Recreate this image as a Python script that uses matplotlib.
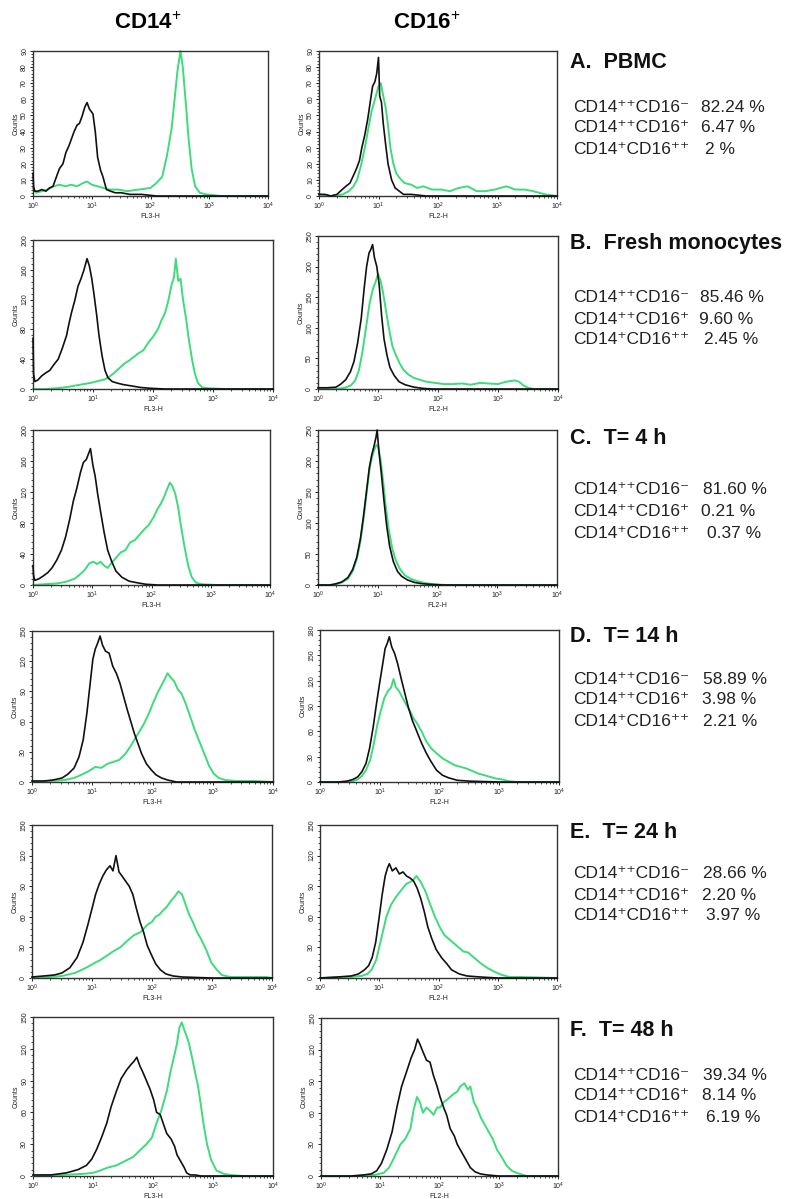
import numpy as np
import matplotlib
matplotlib.use("Agg")
import matplotlib.pyplot as plt
from matplotlib.ticker import MultipleLocator, LogLocator, NullFormatter, LogFormatterMathtext

plt.rcParams['font.family'] = ['Liberation Sans', 'DejaVu Sans']
plt.rcParams['mathtext.fontset'] = 'custom'
plt.rcParams['mathtext.rm'] = 'Liberation Sans'
plt.rcParams['mathtext.it'] = 'Liberation Sans'
plt.rcParams['mathtext.bf'] = 'Liberation Sans:bold'

# ---------------- data (log10 fluorescence positions and counts) ----------------
col_headers = ["CD14$^{+}$", "CD16$^{+}$"]
x_labels = ["FL3-H", "FL2-H"]
row_titles = ["A.  PBMC", "B.  Fresh monocytes", "C.  T= 4 h", "D.  T= 14 h", "E.  T= 24 h", "F.  T= 48 h"]
subset_labels = ["CD14\u207a\u207aCD16\u207b", "CD14\u207a\u207aCD16\u207a", "CD14\u207aCD16\u207a\u207a"]
subset_values = [
    ["82.24 %", "6.47 %", "2 %"],
    ["85.46 %", "9.60 %", "2.45 %"],
    ["81.60 %", "0.21 %", "0.37 %"],
    ["58.89 %", "3.98 %", "2.21 %"],
    ["28.66 %", "2.20 %", "3.97 %"],
    ["39.34 %", "8.14 %", "6.19 %"],
]
y_max = [[90, 90], [200, 250], [200, 250], [150, 180], [150, 150], [150, 150]]
y_step = [[10, 10], [40, 50], [40, 50], [30, 30], [30, 30], [30, 30]]

# Row A
A_cd14_iso_e = [0.00, 0.01, 0.03, 0.08, 0.15, 0.22, 0.28, 0.34, 0.40, 0.45, 0.51, 0.56, 0.61, 0.65, 0.70, 0.75, 0.79, 0.84, 0.88, 0.92, 0.96, 1.02, 1.06, 1.10, 1.15, 1.19, 1.25, 1.32, 1.40, 1.50, 1.65, 1.85, 2.10, 2.50, 3.00, 4.00]
A_cd14_iso_n = [14, 6, 3, 3, 4, 3, 5, 6, 12, 17, 20, 27, 31, 35, 40, 44, 45, 50, 55, 58, 54, 51, 40, 24, 16, 12, 4, 3, 2, 2, 1, 1, 0, 0, 0, 0]
A_cd14_ab_e = [0.00, 0.05, 0.15, 0.25, 0.35, 0.45, 0.55, 0.65, 0.75, 0.85, 0.92, 1.00, 1.10, 1.20, 1.30, 1.45, 1.60, 1.80, 2.00, 2.10, 2.20, 2.28, 2.36, 2.41, 2.46, 2.51, 2.55, 2.60, 2.65, 2.70, 2.76, 2.84, 2.95, 3.20, 4.00]
A_cd14_ab_n = [5, 2, 3, 4, 6, 7, 6, 7, 6, 8, 9, 7, 6, 5, 4, 4, 3, 4, 5, 8, 12, 25, 42, 60, 78, 90, 80, 58, 35, 17, 6, 2, 1, 0, 0]
A_cd16_iso_e = [0.00, 0.10, 0.20, 0.30, 0.36, 0.45, 0.52, 0.57, 0.63, 0.68, 0.72, 0.77, 0.82, 0.86, 0.90, 0.94, 0.97, 1.00, 1.02, 1.05, 1.08, 1.12, 1.16, 1.22, 1.28, 1.35, 1.42, 1.55, 1.80, 2.20, 3.00, 4.00]
A_cd16_iso_n = [1, 1, 0, 1, 3, 6, 8, 12, 17, 22, 30, 38, 48, 58, 68, 71, 76, 86, 62, 58, 45, 32, 20, 10, 5, 3, 1, 1, 0, 0, 0, 0]
A_cd16_ab_e = [0.00, 0.20, 0.40, 0.50, 0.58, 0.64, 0.70, 0.76, 0.82, 0.88, 0.94, 1.00, 1.04, 1.08, 1.12, 1.16, 1.20, 1.25, 1.30, 1.36, 1.44, 1.55, 1.65, 1.75, 1.90, 2.05, 2.20, 2.35, 2.50, 2.65, 2.80, 2.95, 3.05, 3.15, 3.30, 3.45, 3.60, 3.70, 3.80, 4.00]
A_cd16_ab_n = [1, 0, 1, 3, 6, 10, 18, 28, 40, 52, 60, 68, 70, 62, 55, 44, 30, 20, 14, 11, 8, 7, 5, 6, 4, 4, 3, 5, 6, 3, 3, 4, 5, 6, 4, 4, 3, 2, 1, 0]

# Row B
B_cd14_iso_e = [0.00, 0.01, 0.03, 0.08, 0.15, 0.22, 0.28, 0.35, 0.42, 0.49, 0.56, 0.60, 0.64, 0.70, 0.75, 0.80, 0.85, 0.90, 0.94, 0.98, 1.02, 1.06, 1.10, 1.15, 1.20, 1.25, 1.32, 1.40, 1.50, 1.65, 1.80, 1.95, 2.20, 3.00, 4.00]
B_cd14_iso_n = [68, 20, 10, 12, 18, 22, 25, 33, 40, 55, 72, 88, 102, 120, 138, 148, 160, 175, 165, 148, 125, 100, 72, 45, 25, 15, 10, 8, 6, 4, 2, 1, 0, 0, 0]
B_cd14_ab_e = [0.00, 0.20, 0.40, 0.60, 0.80, 0.95, 1.10, 1.20, 1.28, 1.36, 1.44, 1.52, 1.60, 1.68, 1.76, 1.84, 1.92, 2.00, 2.08, 2.14, 2.20, 2.26, 2.31, 2.35, 2.38, 2.42, 2.46, 2.50, 2.55, 2.60, 2.65, 2.70, 2.75, 2.82, 2.92, 3.20, 4.00]
B_cd14_ab_n = [0, 0, 1, 3, 6, 8, 11, 13, 17, 22, 28, 34, 38, 43, 48, 52, 62, 70, 80, 92, 102, 120, 140, 150, 175, 145, 148, 120, 95, 65, 40, 20, 8, 2, 1, 0, 0]
B_cd16_iso_e = [0.00, 0.15, 0.30, 0.38, 0.46, 0.54, 0.60, 0.66, 0.72, 0.77, 0.81, 0.85, 0.88, 0.91, 0.94, 0.98, 1.02, 1.06, 1.10, 1.15, 1.20, 1.27, 1.35, 1.45, 1.60, 1.75, 1.90, 2.20, 3.00, 4.00]
B_cd16_iso_n = [2, 2, 3, 8, 15, 28, 45, 75, 115, 165, 200, 222, 228, 236, 215, 200, 170, 120, 82, 55, 35, 22, 12, 7, 3, 1, 0, 0, 0, 0]
B_cd16_ab_e = [0.00, 0.30, 0.45, 0.55, 0.62, 0.68, 0.74, 0.80, 0.86, 0.92, 0.96, 1.00, 1.04, 1.08, 1.13, 1.18, 1.24, 1.30, 1.36, 1.42, 1.50, 1.60, 1.70, 1.80, 1.95, 2.10, 2.25, 2.40, 2.55, 2.70, 2.85, 3.00, 3.10, 3.20, 3.28, 3.35, 3.42, 3.50, 3.60, 4.00]
B_cd16_ab_n = [0, 0, 2, 6, 14, 30, 60, 100, 140, 165, 175, 188, 178, 160, 130, 100, 70, 55, 42, 32, 24, 18, 15, 12, 10, 8, 8, 9, 7, 10, 9, 8, 11, 13, 14, 12, 6, 2, 0, 0]

# Row C
C_cd14_iso_e = [0.00, 0.01, 0.03, 0.10, 0.18, 0.25, 0.32, 0.40, 0.48, 0.55, 0.62, 0.68, 0.74, 0.80, 0.85, 0.90, 0.94, 0.97, 1.01, 1.05, 1.09, 1.14, 1.20, 1.26, 1.33, 1.40, 1.50, 1.62, 1.75, 1.90, 2.10, 3.00, 4.00]
C_cd14_iso_n = [25, 12, 6, 8, 12, 16, 22, 32, 45, 62, 85, 108, 125, 145, 158, 162, 170, 176, 155, 140, 118, 95, 68, 45, 30, 18, 10, 5, 3, 1, 0, 0, 0]
C_cd14_ab_e = [0.00, 0.20, 0.40, 0.55, 0.70, 0.80, 0.88, 0.95, 1.02, 1.08, 1.14, 1.20, 1.26, 1.32, 1.40, 1.48, 1.56, 1.64, 1.72, 1.80, 1.88, 1.96, 2.04, 2.10, 2.16, 2.22, 2.27, 2.31, 2.35, 2.40, 2.45, 2.50, 2.56, 2.62, 2.68, 2.75, 2.85, 3.10, 4.00]
C_cd14_ab_n = [0, 1, 2, 4, 8, 14, 20, 28, 30, 27, 30, 25, 22, 28, 35, 42, 45, 55, 58, 65, 72, 78, 88, 98, 105, 115, 125, 132, 128, 118, 100, 75, 48, 25, 10, 3, 1, 0, 0]
C_cd16_iso_e = [0.00, 0.20, 0.30, 0.40, 0.50, 0.58, 0.65, 0.71, 0.76, 0.81, 0.86, 0.90, 0.94, 0.97, 0.99, 1.02, 1.06, 1.10, 1.15, 1.20, 1.26, 1.33, 1.40, 1.50, 1.62, 1.75, 1.90, 2.10, 3.00, 4.00]
C_cd16_iso_n = [0, 0, 2, 5, 12, 25, 45, 75, 110, 150, 190, 210, 225, 238, 250, 215, 180, 140, 95, 62, 38, 22, 14, 8, 4, 2, 1, 0, 0, 0]
C_cd16_ab_e = [0.00, 0.20, 0.30, 0.40, 0.50, 0.58, 0.65, 0.71, 0.76, 0.81, 0.86, 0.90, 0.94, 0.98, 1.01, 1.05, 1.09, 1.13, 1.18, 1.24, 1.30, 1.37, 1.45, 1.55, 1.67, 1.80, 1.95, 2.15, 3.00, 4.00]
C_cd16_ab_n = [0, 0, 1, 4, 10, 22, 42, 70, 105, 145, 185, 205, 218, 226, 222, 200, 168, 130, 92, 60, 40, 26, 16, 10, 6, 3, 1, 0, 0, 0]

# Row D
D_cd14_iso_e = [0.00, 0.20, 0.35, 0.50, 0.60, 0.70, 0.78, 0.85, 0.91, 0.96, 1.01, 1.05, 1.09, 1.13, 1.17, 1.22, 1.28, 1.34, 1.40, 1.46, 1.52, 1.58, 1.64, 1.70, 1.76, 1.82, 1.90, 1.98, 2.06, 2.15, 2.25, 2.40, 3.00, 4.00]
D_cd14_iso_n = [1, 1, 2, 4, 8, 14, 25, 42, 68, 95, 122, 132, 138, 145, 136, 130, 128, 115, 108, 98, 85, 72, 60, 48, 38, 28, 18, 12, 7, 4, 2, 0, 0, 0]
D_cd14_ab_e = [0.00, 0.30, 0.55, 0.70, 0.85, 0.95, 1.05, 1.15, 1.25, 1.35, 1.45, 1.55, 1.63, 1.70, 1.78, 1.86, 1.94, 2.02, 2.08, 2.14, 2.20, 2.25, 2.30, 2.36, 2.42, 2.48, 2.55, 2.62, 2.70, 2.78, 2.86, 2.94, 3.02, 3.10, 3.20, 3.40, 3.70, 4.00]
D_cd14_ab_n = [0, 1, 2, 4, 8, 11, 15, 14, 18, 20, 22, 28, 35, 42, 50, 58, 68, 80, 88, 95, 102, 108, 104, 100, 92, 88, 78, 66, 52, 40, 28, 16, 8, 4, 2, 1, 1, 0]
D_cd16_iso_e = [0.00, 0.30, 0.45, 0.55, 0.63, 0.70, 0.77, 0.83, 0.89, 0.95, 1.00, 1.05, 1.09, 1.13, 1.16, 1.20, 1.25, 1.30, 1.36, 1.42, 1.48, 1.55, 1.62, 1.70, 1.78, 1.86, 1.95, 2.05, 2.15, 2.30, 2.50, 3.00, 4.00]
D_cd16_iso_n = [0, 0, 1, 3, 6, 12, 22, 40, 65, 95, 118, 140, 158, 165, 172, 160, 152, 140, 122, 105, 88, 72, 60, 46, 34, 24, 14, 8, 5, 2, 1, 0, 0]
D_cd16_ab_e = [0.00, 0.40, 0.55, 0.63, 0.70, 0.77, 0.84, 0.90, 0.96, 1.02, 1.08, 1.14, 1.19, 1.23, 1.27, 1.32, 1.38, 1.44, 1.50, 1.56, 1.62, 1.70, 1.78, 1.86, 1.95, 2.05, 2.15, 2.25, 2.35, 2.45, 2.55, 2.65, 2.75, 2.85, 2.95, 3.05, 3.15, 3.30, 4.00]
D_cd16_ab_n = [0, 0, 1, 3, 7, 14, 26, 45, 68, 85, 100, 108, 112, 122, 112, 108, 100, 92, 85, 76, 70, 60, 48, 40, 34, 28, 24, 20, 18, 16, 13, 10, 8, 6, 4, 3, 1, 0, 0]

# Row E
E_cd14_iso_e = [0.00, 0.20, 0.38, 0.50, 0.63, 0.75, 0.85, 0.93, 1.00, 1.06, 1.12, 1.18, 1.24, 1.30, 1.35, 1.40, 1.45, 1.50, 1.56, 1.62, 1.68, 1.74, 1.80, 1.86, 1.92, 1.98, 2.06, 2.14, 2.23, 2.35, 2.50, 3.00, 4.00]
E_cd14_iso_n = [1, 2, 3, 5, 10, 20, 35, 52, 68, 82, 92, 100, 106, 110, 105, 120, 104, 100, 95, 90, 82, 68, 55, 45, 32, 24, 14, 8, 4, 2, 1, 0, 0]
E_cd14_ab_e = [0.00, 0.30, 0.50, 0.72, 0.90, 1.05, 1.15, 1.25, 1.35, 1.47, 1.58, 1.70, 1.81, 1.92, 2.00, 2.06, 2.12, 2.18, 2.25, 2.32, 2.38, 2.44, 2.50, 2.56, 2.62, 2.68, 2.75, 2.82, 2.90, 2.99, 3.08, 3.16, 3.30, 3.50, 3.90, 4.00]
E_cd14_ab_n = [0, 1, 2, 5, 10, 15, 18, 22, 26, 30, 36, 42, 45, 52, 55, 60, 62, 66, 70, 76, 80, 85, 82, 72, 62, 55, 45, 38, 28, 15, 8, 3, 1, 1, 1, 0]
E_cd16_iso_e = [0.00, 0.30, 0.53, 0.65, 0.75, 0.82, 0.88, 0.94, 1.00, 1.05, 1.10, 1.14, 1.17, 1.22, 1.28, 1.34, 1.40, 1.46, 1.52, 1.58, 1.64, 1.70, 1.76, 1.82, 1.89, 1.96, 2.05, 2.14, 2.22, 2.35, 2.48, 2.70, 3.00, 4.00]
E_cd16_iso_n = [0, 1, 2, 4, 8, 12, 20, 35, 60, 82, 100, 108, 112, 105, 108, 102, 104, 100, 98, 95, 88, 78, 65, 50, 38, 28, 20, 14, 8, 4, 2, 1, 0, 0]
E_cd16_ab_e = [0.00, 0.50, 0.70, 0.80, 0.87, 0.95, 1.04, 1.12, 1.20, 1.29, 1.37, 1.45, 1.55, 1.63, 1.70, 1.78, 1.86, 1.94, 2.02, 2.10, 2.18, 2.26, 2.34, 2.42, 2.50, 2.60, 2.70, 2.82, 2.95, 3.07, 3.20, 3.40, 4.00]
E_cd16_ab_n = [0, 1, 2, 4, 8, 18, 40, 60, 72, 80, 86, 92, 95, 100, 94, 85, 72, 60, 50, 42, 38, 34, 30, 26, 25, 20, 15, 10, 6, 3, 1, 1, 0]

# Row F
F_cd14_iso_e = [0.00, 0.30, 0.56, 0.75, 0.89, 0.98, 1.06, 1.14, 1.23, 1.30, 1.39, 1.47, 1.56, 1.63, 1.68, 1.73, 1.78, 1.83, 1.89, 1.95, 2.01, 2.06, 2.12, 2.18, 2.23, 2.30, 2.36, 2.40, 2.46, 2.52, 2.56, 2.62, 2.70, 2.80, 3.00, 4.00]
F_cd14_iso_n = [1, 1, 3, 6, 10, 16, 25, 36, 50, 65, 80, 92, 100, 105, 108, 112, 104, 98, 90, 82, 72, 60, 58, 48, 40, 35, 28, 20, 14, 8, 3, 1, 1, 0, 0, 0]
F_cd14_ab_e = [0.00, 0.50, 0.84, 1.00, 1.11, 1.25, 1.39, 1.53, 1.67, 1.78, 1.89, 1.98, 2.06, 2.14, 2.23, 2.29, 2.34, 2.40, 2.44, 2.48, 2.52, 2.56, 2.60, 2.65, 2.70, 2.75, 2.79, 2.84, 2.90, 2.97, 3.06, 3.18, 3.29, 3.50, 4.00]
F_cd14_ab_n = [0, 1, 2, 3, 5, 8, 10, 14, 18, 24, 30, 36, 50, 62, 80, 98, 110, 125, 140, 145, 138, 132, 125, 112, 98, 85, 70, 50, 30, 15, 5, 2, 1, 0, 0]
F_cd16_iso_e = [0.00, 0.50, 0.72, 0.85, 0.94, 1.02, 1.11, 1.20, 1.28, 1.36, 1.45, 1.52, 1.58, 1.63, 1.67, 1.72, 1.78, 1.84, 1.90, 1.96, 2.01, 2.07, 2.12, 2.18, 2.25, 2.30, 2.35, 2.42, 2.48, 2.52, 2.60, 2.69, 2.80, 3.00, 4.00]
F_cd16_iso_n = [0, 0, 1, 2, 5, 12, 25, 42, 65, 85, 100, 112, 120, 130, 125, 118, 110, 108, 95, 85, 75, 65, 58, 45, 38, 30, 25, 18, 12, 8, 4, 2, 1, 0, 0]
F_cd16_ab_e = [0.00, 0.60, 0.90, 1.06, 1.15, 1.24, 1.34, 1.42, 1.51, 1.56, 1.62, 1.67, 1.72, 1.78, 1.84, 1.90, 1.96, 2.01, 2.07, 2.12, 2.18, 2.24, 2.30, 2.35, 2.42, 2.48, 2.52, 2.58, 2.63, 2.70, 2.80, 2.90, 2.97, 3.05, 3.13, 3.22, 3.30, 3.47, 4.00]
F_cd16_ab_n = [0, 0, 1, 3, 8, 18, 30, 35, 45, 62, 75, 70, 60, 65, 62, 58, 65, 65, 70, 72, 75, 78, 80, 85, 88, 82, 85, 70, 65, 55, 45, 35, 25, 18, 10, 5, 3, 0, 0]

curves = [
    [(A_cd14_iso_e, A_cd14_iso_n, A_cd14_ab_e, A_cd14_ab_n), (A_cd16_iso_e, A_cd16_iso_n, A_cd16_ab_e, A_cd16_ab_n)],
    [(B_cd14_iso_e, B_cd14_iso_n, B_cd14_ab_e, B_cd14_ab_n), (B_cd16_iso_e, B_cd16_iso_n, B_cd16_ab_e, B_cd16_ab_n)],
    [(C_cd14_iso_e, C_cd14_iso_n, C_cd14_ab_e, C_cd14_ab_n), (C_cd16_iso_e, C_cd16_iso_n, C_cd16_ab_e, C_cd16_ab_n)],
    [(D_cd14_iso_e, D_cd14_iso_n, D_cd14_ab_e, D_cd14_ab_n), (D_cd16_iso_e, D_cd16_iso_n, D_cd16_ab_e, D_cd16_ab_n)],
    [(E_cd14_iso_e, E_cd14_iso_n, E_cd14_ab_e, E_cd14_ab_n), (E_cd16_iso_e, E_cd16_iso_n, E_cd16_ab_e, E_cd16_ab_n)],
    [(F_cd14_iso_e, F_cd14_iso_n, F_cd14_ab_e, F_cd14_ab_n), (F_cd16_iso_e, F_cd16_iso_n, F_cd16_ab_e, F_cd16_ab_n)],
]

# ---------------- layout (pixel boxes: left, top, right, bottom) ----------------
W, H = 792, 1199
boxes = [
    [(33, 51, 268, 196), (319, 51, 557, 196)],
    [(33, 240, 273, 389), (318, 236, 558, 389)],
    [(33, 430, 270, 585), (318, 430, 557, 585)],
    [(32, 631, 273, 782), (320, 630, 559, 782)],
    [(32, 825, 272, 978), (320, 825, 557, 978)],
    [(33, 1017, 273, 1176), (321, 1018, 558, 1176)],
]
title_y = [62, 244, 438, 636, 832, 1030]
line_y = [[107, 128, 149], [298, 319, 340], [489, 511, 533], [679, 700, 721], [874, 895, 916], [1075, 1096, 1117]]
value_x = [[701, 701, 705], [700, 699, 704], [703, 701, 707], [703, 702, 703], [703, 702, 706], [703, 702, 706]]

BLACK = '#111111'
GREEN = '#3ddc7a'

fig = plt.figure(figsize=(W / 100, H / 100), dpi=100)
fig.patch.set_facecolor('white')

for r in range(6):
    for c in range(2):
        l, t, rr, b = boxes[r][c]
        ax = fig.add_axes([l / W, 1 - b / H, (rr - l) / W, (b - t) / H])
        iso_e, iso_n, ab_e, ab_n = curves[r][c]
        ax.plot(np.power(10.0, ab_e), ab_n, color=GREEN, lw=1.4, clip_on=False, zorder=2)
        ax.plot(np.power(10.0, iso_e), iso_n, color=BLACK, lw=1.2, clip_on=False, zorder=3)
        ax.set_xscale('log')
        ax.set_xlim(1, 1e4)
        ax.set_ylim(0, y_max[r][c])
        ax.xaxis.set_major_locator(LogLocator(base=10, numticks=10))
        ax.xaxis.set_minor_locator(LogLocator(base=10, subs=np.arange(2, 10), numticks=50))
        ax.xaxis.set_minor_formatter(NullFormatter())
        ax.xaxis.set_major_formatter(LogFormatterMathtext())
        ax.yaxis.set_major_locator(MultipleLocator(y_step[r][c]))
        ax.yaxis.set_minor_locator(MultipleLocator(y_step[r][c] / 5))
        ax.tick_params(axis='both', which='major', direction='out', length=2.5, width=0.7,
                       labelsize=5, pad=1, colors='#222222')
        ax.tick_params(axis='both', which='minor', direction='out', length=1.3, width=0.5)
        for lab in ax.get_yticklabels():
            lab.set_rotation(90)
            lab.set_va('center')
        for s in ax.spines.values():
            s.set_linewidth(1.0)
            s.set_color('#333333')
        ax.set_xlabel(x_labels[c], fontsize=5, labelpad=0.5, color='#222222')
        ax.set_ylabel('Counts', fontsize=5, labelpad=1, color='#222222')

# column headers
fig.text(148 / W, 1 - 23 / H, col_headers[0], fontsize=16, fontweight='bold', ha='center', va='center')
fig.text(427 / W, 1 - 23 / H, col_headers[1], fontsize=16, fontweight='bold', ha='center', va='center')

# right-hand annotations
for r in range(6):
    fig.text(570 / W, 1 - title_y[r] / H, row_titles[r], fontsize=15.5, fontweight='bold',
             ha='left', va='center', color='#111111')
    for k in range(3):
        fig.text(573 / W, 1 - line_y[r][k] / H, subset_labels[k], fontsize=12.5,
                 ha='left', va='center', color='#222222')
        fig.text(value_x[r][k] / W, 1 - line_y[r][k] / H, subset_values[r][k], fontsize=12.5,
                 ha='left', va='center', color='#222222')

fig.savefig('out.png', dpi=100, facecolor='white')
